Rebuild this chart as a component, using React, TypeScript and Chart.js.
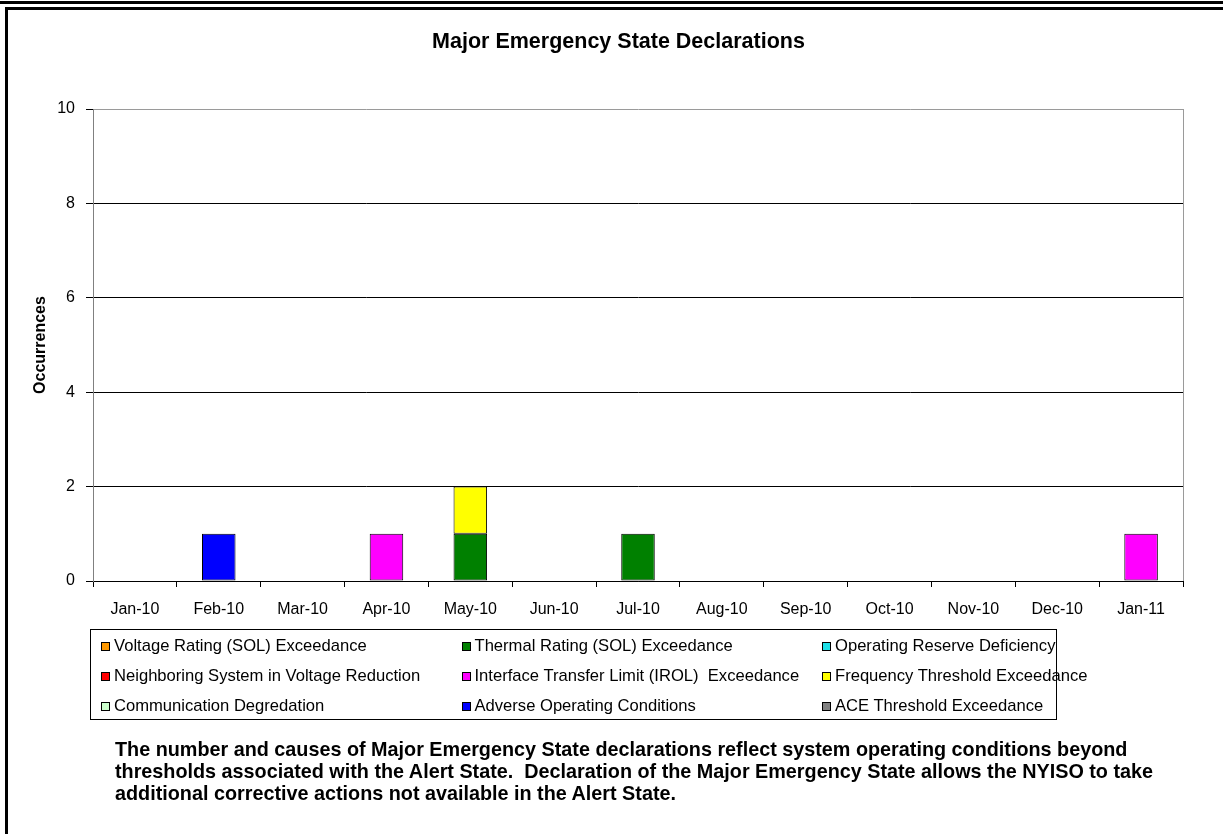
import React, { useEffect, useRef } from "react";
import { Chart, registerables } from "chart.js";

Chart.register(...registerables);

const FONT = "'Liberation Sans', Arial, Helvetica, sans-serif";

const categories = [
  "Jan-10", "Feb-10", "Mar-10", "Apr-10", "May-10", "Jun-10", "Jul-10",
  "Aug-10", "Sep-10", "Oct-10", "Nov-10", "Dec-10", "Jan-11",
];

const yTicks = [0, 2, 4, 6, 8, 10];

const seriesNames = [
  "Voltage Rating (SOL) Exceedance",
  "Thermal Rating (SOL) Exceedance",
  "Operating Reserve Deficiency",
  "Neighboring System in Voltage Reduction",
  "Interface Transfer Limit (IROL)  Exceedance",
  "Frequency Threshold Exceedance",
  "Communication Degredation",
  "Adverse Operating Conditions",
  "ACE Threshold Exceedance",
];

const seriesColors = [
  "#FF9900",
  "#008000",
  "#1FE0E8",
  "#FF0000",
  "#FF00FF",
  "#FFFF00",
  "#CCFFCC",
  "#0000FF",
  "#808080",
];

const voltageRating = [0, 0, 0, 0, 0, 0, 0, 0, 0, 0, 0, 0, 0];
const thermalRating = [0, 0, 0, 0, 1, 0, 1, 0, 0, 0, 0, 0, 0];
const operatingReserve = [0, 0, 0, 0, 0, 0, 0, 0, 0, 0, 0, 0, 0];
const neighboringSystem = [0, 0, 0, 0, 0, 0, 0, 0, 0, 0, 0, 0, 0];
const interfaceTransfer = [0, 0, 0, 1, 0, 0, 0, 0, 0, 0, 0, 0, 1];
const frequencyThreshold = [0, 0, 0, 0, 1, 0, 0, 0, 0, 0, 0, 0, 0];
const communicationDeg = [0, 0, 0, 0, 0, 0, 0, 0, 0, 0, 0, 0, 0];
const adverseConditions = [0, 1, 0, 0, 0, 0, 0, 0, 0, 0, 0, 0, 0];
const aceThreshold = [0, 0, 0, 0, 0, 0, 0, 0, 0, 0, 0, 0, 0];

const seriesValues = [
  voltageRating,
  thermalRating,
  operatingReserve,
  neighboringSystem,
  interfaceTransfer,
  frequencyThreshold,
  communicationDeg,
  adverseConditions,
  aceThreshold,
];

const noteLines = [
  "The number and causes of Major Emergency State declarations reflect system operating conditions beyond",
  "thresholds associated with the Alert State.  Declaration of the Major Emergency State allows the NYISO to take",
  "additional corrective actions not available in the Alert State.",
];

const frameRight = {
  id: "frameRight",
  afterDraw(chart: any) {
    const { ctx, chartArea } = chart;
    ctx.save();
    ctx.strokeStyle = "#9a9a9a";
    ctx.lineWidth = 1;
    ctx.beginPath();
    ctx.moveTo(Math.round(chartArea.right) + 0.5, chartArea.top);
    ctx.lineTo(Math.round(chartArea.right) + 0.5, chartArea.bottom);
    ctx.stroke();
    ctx.restore();
  },
};

export default function App() {
  const canvasRef = useRef<HTMLCanvasElement | null>(null);

  useEffect(() => {
    const canvas = canvasRef.current;
    if (!canvas) return;
    const chart = new Chart(canvas, {
      type: "bar",
      data: {
        labels: categories,
        datasets: seriesNames.map((name, i) => ({
          label: name,
          data: seriesValues[i],
          backgroundColor: seriesColors[i],
          borderColor: "#000000",
          borderWidth: 1,
          borderSkipped: false,
          categoryPercentage: 1,
          barPercentage: 0.4,
        })),
      },
      options: {
        responsive: false,
        maintainAspectRatio: false,
        animation: false,
        devicePixelRatio: 1,
        layout: { padding: { left: 0, right: 40, top: 109, bottom: 0 } },
        plugins: {
          legend: { display: false },
          title: { display: false },
          tooltip: { enabled: false },
        },
        scales: {
          x: {
            stacked: true,
            offset: true,
            grid: {
              offset: true,
              drawOnChartArea: false,
              drawTicks: true,
              tickLength: 6,
              color: "#000000",
            },
            border: { color: "#000000", width: 1 },
            ticks: {
              color: "#000000",
              font: { family: FONT, size: 16 },
              padding: 13,
              maxRotation: 0,
              autoSkip: false,
            },
            afterFit: (axis: any) => {
              axis.height = 253;
            },
          },
          y: {
            stacked: true,
            min: 0,
            max: 10,
            afterBuildTicks: (axis: any) => {
              axis.ticks = yTicks.map((v) => ({ value: v }));
            },
            grid: {
              color: (ctx: any) =>
                ctx.tick && ctx.tick.value === 10 ? "#9a9a9a" : "#000000",
              tickColor: "#000000",
              tickLength: 7,
              lineWidth: 1,
            },
            border: { color: "#808080", width: 1 },
            ticks: {
              color: "#000000",
              font: { family: FONT, size: 16 },
              padding: 11,
            },
            title: {
              display: true,
              text: "Occurrences",
              color: "#000000",
              font: { family: FONT, size: 16, weight: "bold" },
              padding: { top: 31.4, bottom: 0 },
            },
            afterFit: (axis: any) => {
              axis.width = 93;
            },
          },
        },
      },
      plugins: [frameRight],
    });
    return () => chart.destroy();
  }, []);

  return (
    <div
      style={{
        position: "absolute",
        left: 0,
        top: 0,
        width: 1223,
        height: 834,
        background: "#ffffff",
        overflow: "hidden",
        fontFamily: FONT,
      }}
    >
      <canvas
        ref={canvasRef}
        width={1223}
        height={834}
        style={{ position: "absolute", left: 0, top: 0, width: 1223, height: 834 }}
      />
      {/* outer frame lines */}
      <div style={{ position: "absolute", left: 0, top: 1, width: 1223, height: 3, background: "#000" }} />
      <div
        style={{
          position: "absolute",
          left: 5,
          top: 7,
          width: 1230,
          height: 840,
          borderTop: "3px solid #000",
          borderLeft: "3px solid #000",
          boxSizing: "border-box",
          pointerEvents: "none",
        }}
      />
      {/* title */}
      <div
        style={{
          position: "absolute",
          left: 0,
          top: 28,
          width: 1237,
          textAlign: "center",
          fontWeight: "bold",
          fontSize: 21.5,
          lineHeight: "26px",
          color: "#000",
        }}
      >
        Major Emergency State Declarations
      </div>
      {/* legend */}
      <div
        style={{
          position: "absolute",
          left: 90,
          top: 629,
          width: 967,
          height: 91,
          border: "1px solid #000",
          boxSizing: "border-box",
          paddingLeft: 10,
          paddingTop: 1,
          display: "grid",
          gridTemplateColumns: "360.5px 360.5px 1fr",
          gridAutoRows: "30px",
          alignItems: "center",
          fontSize: 16.6,
          color: "#000",
        }}
      >
        {seriesNames.map((name, i) => (
          <div key={name} style={{ display: "flex", alignItems: "center", whiteSpace: "pre" }}>
            <span
              style={{
                display: "inline-block",
                width: 9,
                height: 9,
                border: "1px solid #000",
                boxSizing: "border-box",
                background: seriesColors[i],
                marginRight: 4,
                flex: "none",
              }}
            />
            <span>{name}</span>
          </div>
        ))}
      </div>
      {/* note */}
      <div
        style={{
          position: "absolute",
          left: 115,
          top: 738,
          fontWeight: "bold",
          fontSize: 19.8,
          lineHeight: "22px",
          color: "#000",
          whiteSpace: "pre",
        }}
      >
        {noteLines.map((l) => (
          <div key={l}>{l}</div>
        ))}
      </div>
    </div>
  );
}
